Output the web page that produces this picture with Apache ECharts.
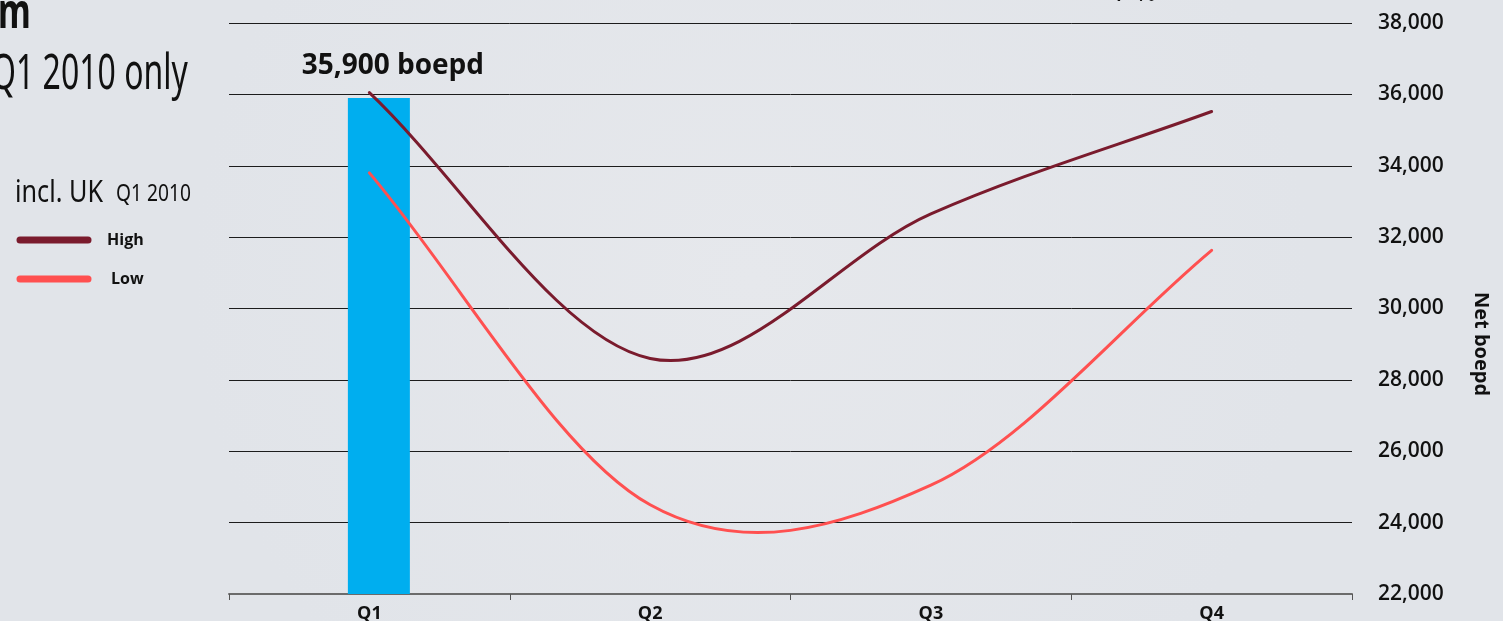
<!DOCTYPE html>
<html>
<head>
<meta charset="utf-8">
<title>Net boepd</title>
<script src="https://cdn.jsdelivr.net/npm/echarts@6/dist/echarts.min.js"></script>
<style>
  html, body { margin: 0; padding: 0; background: #e3e6ea; }
  #chart { width: 1503px; height: 621px; }
</style>
</head>
<body>
<div id="chart"></div>
<script>
// Quarterly net production guidance (boepd)
const quarters = ['Q1', 'Q2', 'Q3', 'Q4'];
const actualQ1 = [35900, null, null, null];
const highCase = [36050, 28600, 32650, 35520];
const lowCase = [33800, 24500, 25050, 31630];
const yTicks = { min: 22000, max: 38000, step: 2000 };

const bodyFont = '"Open Sans", "Noto Sans", sans-serif';
const titleFont = '"Noto Sans", sans-serif';

// Cubic Hermite (Catmull-Rom) path through pixel points; end tangents follow the end segment.
function splinePath(pts) {
  const n = pts.length;
  let d = 'M' + pts[0][0] + ',' + pts[0][1];
  for (let i = 0; i < n - 1; i++) {
    const p0 = pts[i], p1 = pts[i + 1];
    const m0 = i === 0
      ? [p1[0] - p0[0], p1[1] - p0[1]]
      : [(p1[0] - pts[i - 1][0]) / 2, (p1[1] - pts[i - 1][1]) / 2];
    const m1 = i + 1 === n - 1
      ? [p1[0] - p0[0], p1[1] - p0[1]]
      : [(pts[i + 2][0] - p0[0]) / 2, (pts[i + 2][1] - p0[1]) / 2];
    const c1 = [p0[0] + m0[0] / 3, p0[1] + m0[1] / 3];
    const c2 = [p1[0] - m1[0] / 3, p1[1] - m1[1] / 3];
    d += ' C' + c1[0] + ',' + c1[1] + ' ' + c2[0] + ',' + c2[1] + ' ' + p1[0] + ',' + p1[1];
  }
  return d;
}

function curveSeries(name, values, color) {
  return {
    name: name,
    type: 'custom',
    data: values.map((v, i) => [i, v]),
    encode: { x: 0, y: 1 },
    z: 3,
    renderItem: function (params, api) {
      if (params.dataIndex !== 0) return null;
      const pts = values.map((v, i) => api.coord([i, v]));
      return {
        type: 'path',
        shape: { pathData: splinePath(pts) },
        style: { fill: null, stroke: color, lineWidth: 3, lineCap: 'round' }
      };
    }
  };
}

const chart = echarts.init(document.getElementById('chart'), null, { renderer: 'canvas' });

chart.setOption({
  backgroundColor: {
    type: 'radial', x: 0.5, y: 0.45, r: 0.9,
    colorStops: [
      { offset: 0, color: '#e6e8ec' },
      { offset: 1, color: '#e1e4e9' }
    ]
  },
  animation: false,
  grid: {
    left: 229, right: 151, top: 23, bottom: 27,
    containLabel: false, outerBoundsMode: 'none'
  },
  xAxis: {
    type: 'category',
    data: quarters,
    boundaryGap: true,
    axisLine: { show: true, lineStyle: { color: '#6b6b6b', width: 2 } },
    axisTick: { show: true, length: 6, lineStyle: { color: '#555', width: 1 } },
    axisLabel: {
      color: '#111', fontFamily: bodyFont, fontWeight: 'bold', fontSize: 18, margin: 11
    },
    splitLine: { show: false }
  },
  yAxis: {
    type: 'value',
    position: 'right',
    min: yTicks.min, max: yTicks.max, interval: yTicks.step,
    axisLine: { show: false },
    axisTick: { show: false },
    axisLabel: {
      color: '#111', fontFamily: bodyFont, fontWeight: 600, fontSize: 21, margin: 26,
      padding: [0, 0, 3, 0],
      formatter: v => v.toLocaleString('en-US')
    },
    splitLine: { show: true, lineStyle: { color: '#1c1c1c', width: 1 } }
  },
  series: [
    {
      // empty spacer column, nudges the Q1 bar right of the category centre
      name: 'spacer',
      type: 'bar',
      data: [null, null, null, null],
      barWidth: 19,
      barGap: 0,
      silent: true
    },
    {
      name: 'Q1 2010',
      type: 'bar',
      data: actualQ1,
      barWidth: 62,
      barGap: 0,
      itemStyle: { color: '#00aeef' },
      label: {
        show: true, position: 'top', distance: 18, offset: [14, 0],
        formatter: p => p.value.toLocaleString('en-US') + ' boepd',
        color: '#111', fontFamily: bodyFont, fontWeight: 'bold', fontSize: 28
      },
      z: 1
    },
    curveSeries('High', highCase, '#7a1b2d'),
    curveSeries('Low', lowCase, '#ff5050')
  ],
  graphic: [
    {
      type: 'text', x: -2, y: 14, scaleX: 0.7,
      style: { text: 'm', font: 'bold 48px ' + titleFont, fill: '#111', verticalAlign: 'middle' }
    },
    {
      type: 'text', x: -9, y: 75, scaleX: 0.64,
      style: { text: 'Q1 2010 only', font: '50px ' + titleFont, fill: '#111', verticalAlign: 'middle' }
    },
    {
      type: 'text', x: 15, y: 193, scaleX: 0.84,
      style: { text: 'incl. UK', font: '30px ' + titleFont, fill: '#111', verticalAlign: 'middle' }
    },
    {
      type: 'text', x: 116, y: 194, scaleX: 0.8,
      style: { text: 'Q1 2010', font: '24px ' + titleFont, fill: '#111', verticalAlign: 'middle' }
    },
    {
      type: 'line', shape: { x1: 20, y1: 240, x2: 88, y2: 240 },
      style: { stroke: '#7a1b2d', lineWidth: 7, lineCap: 'round' }
    },
    {
      type: 'text', x: 107, y: 240,
      style: { text: 'High', font: 'bold 16px ' + bodyFont, fill: '#111', verticalAlign: 'middle' }
    },
    {
      type: 'line', shape: { x1: 20, y1: 279, x2: 88, y2: 279 },
      style: { stroke: '#ff5050', lineWidth: 7, lineCap: 'round' }
    },
    {
      type: 'text', x: 111, y: 279,
      style: { text: 'Low', font: 'bold 16px ' + bodyFont, fill: '#111', verticalAlign: 'middle' }
    },
    {
      type: 'text', x: 1114, y: -8, scaleX: 0.8,
      style: { text: '7 %', font: '32px ' + titleFont, fill: '#111', verticalAlign: 'middle' }
    },
    {
      type: 'text', x: 1481, y: 344, rotation: -Math.PI / 2,
      style: {
        text: 'Net boepd', font: 'bold 20px ' + bodyFont, fill: '#111',
        align: 'center', verticalAlign: 'middle'
      }
    }
  ]
});
</script>
</body>
</html>
